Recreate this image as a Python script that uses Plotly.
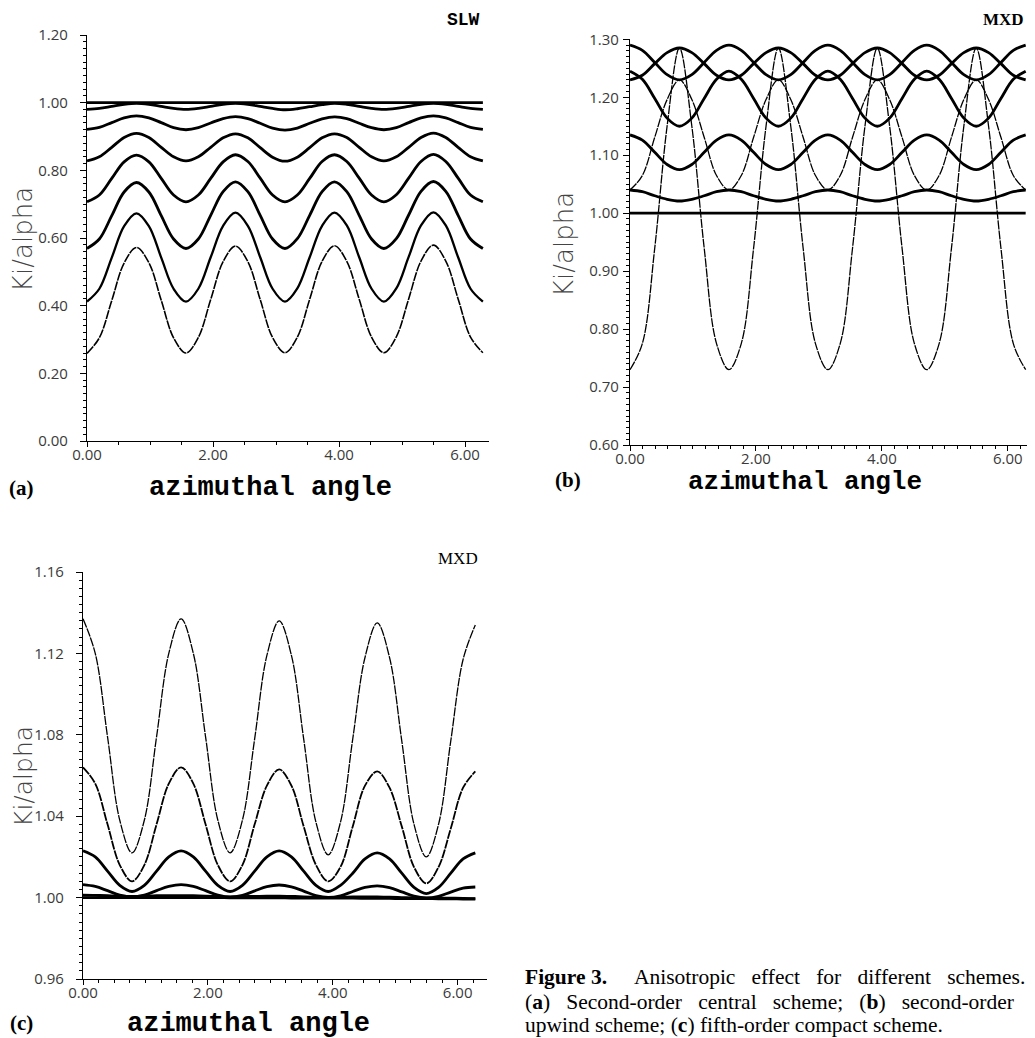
import plotly.graph_objects as go

W, H = 1035, 1038
OFF = 8  # page body margin offset

THETA = [0.000, 0.196, 0.393, 0.589, 0.785, 0.982, 1.178, 1.374, 1.571, 1.767, 1.963,
         2.160, 2.356, 2.553, 2.749, 2.945, 3.142, 3.338, 3.534, 3.731, 3.927, 4.123,
         4.320, 4.516, 4.712, 4.909, 5.105, 5.301, 5.498, 5.694, 5.890, 6.087, 6.283]

# ---------------- panel (a) SLW ----------------
A1 = [1.000, 1.000, 1.000, 1.000, 1.000, 1.000, 1.000, 1.000, 1.000, 1.000, 1.000,
      1.000, 1.000, 1.000, 1.000, 1.000, 1.000, 1.000, 1.000, 1.000, 1.000, 1.000,
      1.000, 1.000, 1.000, 1.000, 1.000, 1.000, 1.000, 1.000, 1.000, 1.000, 1.000]
A2 = [0.980, 0.983, 0.989, 0.995, 0.998, 0.995, 0.989, 0.983,
      0.980, 0.983, 0.989, 0.995, 0.998, 0.995, 0.989, 0.983,
      0.979, 0.982, 0.988, 0.994, 0.998, 0.995, 0.989, 0.983,
      0.980, 0.983, 0.989, 0.995, 0.998, 0.995, 0.989, 0.983, 0.980]
A3 = [0.921, 0.927, 0.941, 0.955, 0.961, 0.955, 0.941, 0.926,
      0.920, 0.926, 0.940, 0.953, 0.959, 0.953, 0.939, 0.925,
      0.919, 0.925, 0.939, 0.952, 0.958, 0.953, 0.939, 0.926,
      0.920, 0.926, 0.941, 0.955, 0.961, 0.955, 0.941, 0.927, 0.921]
A4 = [0.828, 0.840, 0.868, 0.897, 0.909, 0.897, 0.868, 0.840,
      0.828, 0.840, 0.868, 0.896, 0.908, 0.896, 0.867, 0.839,
      0.827, 0.839, 0.867, 0.896, 0.908, 0.897, 0.868, 0.840,
      0.828, 0.840, 0.868, 0.897, 0.910, 0.897, 0.868, 0.840, 0.828]
A5 = [0.707, 0.727, 0.776, 0.825, 0.845, 0.825, 0.776, 0.727,
      0.707, 0.727, 0.776, 0.825, 0.846, 0.826, 0.777, 0.727,
      0.707, 0.727, 0.776, 0.826, 0.846, 0.826, 0.777, 0.727,
      0.707, 0.728, 0.777, 0.826, 0.847, 0.826, 0.777, 0.727, 0.707]
A6 = [0.569, 0.597, 0.666, 0.736, 0.764, 0.736, 0.666, 0.597,
      0.569, 0.597, 0.667, 0.737, 0.766, 0.737, 0.667, 0.597,
      0.569, 0.598, 0.667, 0.737, 0.766, 0.737, 0.667, 0.597,
      0.569, 0.598, 0.668, 0.738, 0.767, 0.738, 0.667, 0.597, 0.569]
A7 = [0.412, 0.450, 0.542, 0.635, 0.673, 0.635, 0.542, 0.450,
      0.412, 0.450, 0.543, 0.636, 0.675, 0.636, 0.543, 0.450,
      0.412, 0.451, 0.543, 0.636, 0.675, 0.637, 0.543, 0.450,
      0.412, 0.451, 0.544, 0.637, 0.676, 0.637, 0.543, 0.450, 0.412]
A8 = [0.259, 0.305, 0.415, 0.526, 0.572, 0.527, 0.416, 0.305,
      0.260, 0.306, 0.418, 0.530, 0.576, 0.530, 0.418, 0.306,
      0.261, 0.307, 0.419, 0.531, 0.577, 0.531, 0.419, 0.307,
      0.261, 0.308, 0.420, 0.532, 0.579, 0.532, 0.420, 0.307, 0.261]

# ---------------- panel (b) MXD ----------------
B1 = [1.000, 1.000, 1.000, 1.000, 1.000, 1.000, 1.000, 1.000, 1.000, 1.000, 1.000,
      1.000, 1.000, 1.000, 1.000, 1.000, 1.000, 1.000, 1.000, 1.000, 1.000, 1.000,
      1.000, 1.000, 1.000, 1.000, 1.000, 1.000, 1.000, 1.000, 1.000, 1.000, 1.000]
B2 = [1.040, 1.037, 1.030, 1.024, 1.021, 1.024, 1.030, 1.037,
      1.040, 1.037, 1.030, 1.024, 1.021, 1.024, 1.030, 1.037,
      1.040, 1.037, 1.030, 1.024, 1.021, 1.024, 1.030, 1.037,
      1.040, 1.037, 1.030, 1.024, 1.021, 1.024, 1.030, 1.037, 1.040]
B3 = [1.135, 1.126, 1.105, 1.084, 1.075, 1.084, 1.105, 1.126,
      1.135, 1.126, 1.105, 1.084, 1.075, 1.084, 1.105, 1.126,
      1.135, 1.126, 1.105, 1.084, 1.075, 1.084, 1.105, 1.126,
      1.135, 1.126, 1.105, 1.084, 1.075, 1.084, 1.105, 1.126, 1.135]
B4 = [1.245, 1.231, 1.198, 1.164, 1.150, 1.164, 1.198, 1.231,
      1.245, 1.231, 1.198, 1.164, 1.150, 1.164, 1.198, 1.231,
      1.245, 1.231, 1.198, 1.164, 1.150, 1.164, 1.198, 1.231,
      1.245, 1.231, 1.198, 1.164, 1.150, 1.164, 1.198, 1.231, 1.245]
B5 = [1.290, 1.281, 1.260, 1.239, 1.230, 1.239, 1.260, 1.281,
      1.290, 1.281, 1.260, 1.239, 1.230, 1.239, 1.260, 1.281,
      1.290, 1.281, 1.260, 1.239, 1.230, 1.239, 1.260, 1.281,
      1.290, 1.281, 1.260, 1.239, 1.230, 1.239, 1.260, 1.281, 1.290]
B6 = [1.230, 1.238, 1.258, 1.277, 1.285, 1.277, 1.258, 1.238,
      1.230, 1.238, 1.258, 1.277, 1.285, 1.277, 1.258, 1.238,
      1.230, 1.238, 1.258, 1.277, 1.285, 1.277, 1.258, 1.238,
      1.230, 1.238, 1.258, 1.277, 1.285, 1.277, 1.258, 1.238, 1.230]
B7 = [1.040, 1.065, 1.131, 1.196, 1.230, 1.196, 1.131, 1.065,
      1.040, 1.065, 1.131, 1.196, 1.230, 1.196, 1.131, 1.065,
      1.040, 1.065, 1.131, 1.196, 1.230, 1.196, 1.131, 1.065,
      1.040, 1.065, 1.131, 1.196, 1.230, 1.196, 1.131, 1.065, 1.040]
B8 = [0.730, 0.775, 0.940, 1.150, 1.285, 1.150, 0.940, 0.775,
      0.730, 0.775, 0.940, 1.150, 1.285, 1.150, 0.940, 0.775,
      0.730, 0.775, 0.940, 1.150, 1.285, 1.150, 0.940, 0.775,
      0.730, 0.775, 0.940, 1.150, 1.285, 1.150, 0.940, 0.775, 0.730]

# ---------------- panel (c) MXD ----------------
C1 = [1.137, 1.120, 1.079, 1.038, 1.022, 1.038, 1.079, 1.120,
      1.137, 1.120, 1.079, 1.038, 1.022, 1.038, 1.078, 1.119,
      1.136, 1.119, 1.078, 1.037, 1.021, 1.037, 1.078, 1.118,
      1.135, 1.118, 1.077, 1.036, 1.020, 1.036, 1.077, 1.117, 1.134]
C2 = [1.064, 1.056, 1.036, 1.016, 1.008, 1.016, 1.036, 1.056,
      1.064, 1.056, 1.036, 1.016, 1.008, 1.016, 1.036, 1.055,
      1.063, 1.055, 1.035, 1.016, 1.008, 1.015, 1.035, 1.055,
      1.062, 1.054, 1.035, 1.015, 1.007, 1.015, 1.034, 1.054, 1.062]
C3 = [1.023, 1.020, 1.013, 1.006, 1.003, 1.006, 1.013, 1.020,
      1.023, 1.020, 1.013, 1.006, 1.003, 1.006, 1.013, 1.020,
      1.023, 1.020, 1.013, 1.006, 1.003, 1.006, 1.012, 1.019,
      1.022, 1.019, 1.012, 1.005, 1.002, 1.005, 1.012, 1.019, 1.022]
C4 = [1.0064, 1.0055, 1.0034, 1.0012, 1.0003, 1.0012, 1.0034, 1.0055,
      1.0064, 1.0055, 1.0034, 1.0012, 1.0002, 1.0011, 1.0033, 1.0054,
      1.0062, 1.0053, 1.0032, 1.0010, 1.0001, 1.0009, 1.0030, 1.0050,
      1.0058, 1.0049, 1.0028, 1.0007, 0.9998, 1.0006, 1.0027, 1.0046, 1.0052]
C5 = [1.0012, 1.0011, 1.0009, 1.0007, 1.0006, 1.0007, 1.0009, 1.0010,
      1.0010, 1.0009, 1.0007, 1.0005, 1.0004, 1.0005, 1.0006, 1.0007,
      1.0007, 1.0006, 1.0004, 1.0002, 1.0001, 1.0002, 1.0003, 1.0004,
      1.0003, 1.0002, 1.0000, 0.9998, 0.9997, 0.9997, 0.9997, 0.9996, 0.9995]
C6 = [1.0000, 1.0000, 1.0000, 1.0000, 1.0000, 1.0000, 1.0000, 1.0000,
      1.0000, 1.0000, 1.0000, 1.0000, 0.9999, 0.9999, 0.9999, 0.9999,
      0.9999, 0.9998, 0.9998, 0.9998, 0.9997, 0.9997, 0.9997, 0.9996,
      0.9996, 0.9996, 0.9995, 0.9995, 0.9995, 0.9994, 0.9994, 0.9993, 0.9993]

Y_TICKS_A = [0.00, 0.20, 0.40, 0.60, 0.80, 1.00, 1.20]
Y_TICKS_B = [0.60, 0.70, 0.80, 0.90, 1.00, 1.10, 1.20, 1.30]
Y_TICKS_C = [0.96, 1.00, 1.04, 1.08, 1.12, 1.16]
X_TICKS = [0.0, 2.0, 4.0, 6.0]

THICK, MED, THIN = 2.8, 2.3, 1.3
THIN_DASH = "9px,1px"

FW, FH = W - OFF, H - OFF

fig = go.Figure()


def add(ax, ys, width, dash="solid"):
    fig.add_trace(go.Scatter(
        x=THETA, y=ys, mode="lines", xaxis="x" + ax, yaxis="y" + ax,
        line=dict(color="black", width=width, dash=dash, shape="spline", smoothing=1.0),
        hoverinfo="skip", showlegend=False))


for ys, w, d in [(A1, THICK, "solid"), (A2, THICK, "solid"), (A3, THICK, "solid"),
                 (A4, THICK, "solid"), (A5, THICK, "solid"), (A6, THICK, "solid"),
                 (A7, MED, "solid"), (A8, 1.6, THIN_DASH)]:
    add("", ys, w, d)
for ys, w, d in [(B1, THICK, "solid"), (B2, THICK, "solid"), (B3, THICK, "solid"),
                 (B4, THICK, "solid"), (B5, THICK, "solid"), (B6, THICK, "solid"),
                 (B7, THIN, THIN_DASH), (B8, THIN, THIN_DASH)]:
    add("2", ys, w, d)
for ys, w, d in [(C1, THIN, THIN_DASH), (C2, 1.8, THIN_DASH), (C3, THICK, "solid"),
                 (C4, THICK, "solid"), (C5, THICK, "solid"), (C6, THICK, "solid")]:
    add("3", ys, w, d)


def px(x):
    return (x - OFF) / FW


def py(y):
    return 1 - (y - OFF) / FH


tickfont = dict(family="Open Sans, DejaVu Sans, sans-serif", size=15, color="#3a3a3a")


def xaxis(dom, rng, anchor, minor):
    return dict(domain=[px(dom[0]), px(dom[1])], range=rng, anchor=anchor, automargin=False,
                showline=True, linecolor="black", linewidth=1.4, mirror=False,
                showgrid=False, zeroline=False, ticks="outside", ticklen=5, tickwidth=1.2,
                tickcolor="black", tickvals=X_TICKS, tickformat=".2f", tickfont=tickfont,
                ticklabelstandoff=-5,
                minor=dict(dtick=minor, tick0=0, ticks="outside", ticklen=3, tickwidth=1,
                           tickcolor="black", showgrid=False))


def yaxis(dom, rng, anchor, tv, minor, standoff):
    return dict(domain=[py(dom[1]), py(dom[0])], range=rng, anchor=anchor, automargin=False,
                showline=True, linecolor="black", linewidth=1.4, mirror=False,
                showgrid=False, zeroline=False, ticks="outside", ticklen=6, tickwidth=1.2,
                tickcolor="black", tickvals=tv, tickformat=".2f", tickfont=tickfont,
                ticklabelstandoff=standoff,
                minor=dict(dtick=minor, tick0=tv[0], ticks="outside", ticklen=3, tickwidth=1,
                           tickcolor="black", showgrid=False))


fig.update_layout(
    width=FW, height=FH, margin=dict(l=0, r=0, t=0, b=0, pad=0, autoexpand=False),
    paper_bgcolor="white", plot_bgcolor="white", showlegend=False,
    xaxis=xaxis((87, 489), [0, 6.38], "y", 0.5),
    yaxis=yaxis((35, 441), [0, 1.2], "x", Y_TICKS_A, 0.02, 9),
    xaxis2=xaxis((630, 1028), [0, 6.32], "y2", 0.2),
    yaxis2=yaxis((39.3, 445), [0.6, 1.3], "x2", Y_TICKS_B, 0.01, 1),
    xaxis3=xaxis((83, 487), [0, 6.47], "y3", 0.25),
    yaxis3=yaxis((572, 979), [0.96, 1.16], "x3", Y_TICKS_C, 0.004, 9),
)

ann = []


def note(text, x, y, size, family, color="black", angle=0, xanchor="center", weight=None):
    f = dict(size=size, family=family, color=color)
    if weight:
        f["weight"] = weight
    ann.append(dict(text=text, x=px(x), y=py(y), xref="paper", yref="paper",
                    showarrow=False, textangle=angle, xanchor=xanchor, yanchor="middle",
                    font=f))


ylab_font = "DejaVu Sans, sans-serif"
mono = "Liberation Mono, Courier New, monospace"
serif = "Liberation Serif, Times New Roman, serif"

note("Ki/alpha", 23, 240, 26, ylab_font, "#444", -90, weight=200)
note("Ki/alpha", 564, 245, 26, ylab_font, "#444", -90, weight=200)
note("Ki/alpha", 23, 777, 25, ylab_font, "#444", -90, weight=200)

note("<b>azimuthal angle</b>", 270, 488, 27, mono)
note("<b>azimuthal angle</b>", 805, 482, 26, mono)
note("<b>azimuthal angle</b>", 248, 1024, 27, mono)

note("<b>(a)</b>", 21, 488, 21, serif)
note("<b>(b)</b>", 568, 480, 21, serif)
note("<b>(c)</b>", 21, 1023, 21, serif)

note("<b>SLW</b>", 463, 20, 18, mono)
note("<b>MXD</b>", 1003, 19, 17, serif)
note("MXD", 458, 558, 17, serif)

sp = "\u00a0"
note("<b>Figure 3.</b>" + sp * 5 + "Anisotropic" + sp * 3 + "effect" + sp * 3 + "for"
     + sp * 3 + "different" + sp * 3 + "schemes.",
     523, 977, 21.5, serif, xanchor="left")
note("(<b>a</b>)" + sp * 3 + "Second-order" + sp * 3 + "central" + sp * 3 + "scheme;"
     + sp * 3 + "(<b>b</b>)" + sp * 3 + "second-order",
     523, 1002, 21.5, serif, xanchor="left")
note("upwind scheme; (<b>c</b>) fifth-order compact scheme.",
     523, 1025, 21.5, serif, xanchor="left")

fig.update_layout(annotations=ann)

fig.write_html("out.html")
